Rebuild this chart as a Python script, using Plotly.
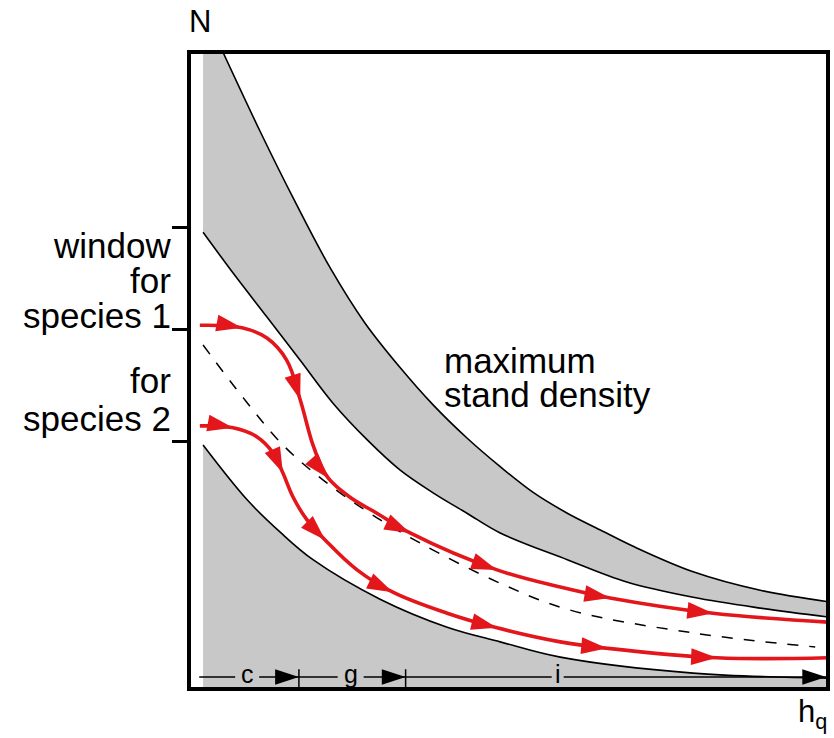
import numpy as np
import plotly.graph_objects as go

# ---------------- data (chart units: h_q and N both scaled 0-100) ----------------
upper_x = [5.3, 11.1, 16.6, 22.1, 27.5, 33.0, 38.2, 43.5, 48.7, 53.8, 59.2, 64.3, 69.5, 78.9, 89.4, 100]
upper_y = [100, 87.6, 76.5, 66.1, 57.5, 50.5, 44.6, 39.4, 34.9, 30.9, 27.6, 25.0, 22.4, 18.4, 15.5, 13.7]

middle_x = [2.2, 6.9, 12.2, 17.4, 22.5, 27.9, 33.0, 38.2, 43.5, 48.7, 59.2, 68.5, 78.9, 89.4, 100]
middle_y = [71.7, 65.3, 58.4, 51.6, 44.9, 39.1, 34.4, 30.8, 27.6, 24.5, 20.3, 16.8, 14.4, 12.7, 11.3]

lower_x = [2.2, 9.1, 14.4, 19.4, 29.9, 40.4, 48.7, 58.1, 78.9, 100]
lower_y = [38.3, 29.7, 24.5, 20.3, 14.1, 9.7, 7.4, 5.0, 2.5, 1.7]

dashed_x = [2.2, 8.5, 14.7, 21.0, 28.3, 36.2, 48.7, 59.6, 78.9, 98.0]
dashed_y = [54.0, 45.7, 38.3, 32.8, 27.6, 22.9, 16.6, 12.4, 8.8, 6.6]

sp1_x = [1.7, 8.3, 12.2, 15.3, 17.4, 19.3, 20.5, 21.8, 25.2, 29.4, 34.6, 48.2, 58.1, 65.9, 82.0, 100]
sp1_y = [57.1, 56.7, 55.1, 51.6, 45.4, 38.6, 35.5, 33.1, 30.1, 27.6, 24.5, 18.7, 16.0, 14.3, 11.9, 10.5]
sp1_arrows = [1, 4, 7, 10, 11, 13, 14]

sp2_x = [1.7, 6.9, 10.6, 13.2, 14.7, 16.3, 18.5, 21.3, 26.3, 31.9, 40.4, 48.2, 58.1, 65.4, 82.6, 100]
sp2_y = [41.3, 41.0, 39.6, 37.0, 33.9, 30.1, 26.5, 23.4, 18.7, 15.2, 11.9, 9.6, 7.4, 6.4, 4.9, 4.9]
sp2_arrows = [1, 4, 7, 9, 11, 13, 14]

window_ticks = [72.4, 56.5, 38.8]
left_labels = ["window", "for", "species 1", "for", "species 2"]
left_label_y = [69.7, 64.2, 58.6, 48.4, 42.5]

phase_edges = [1.6, 17.2, 33.9, 99.7]
phase_labels = ["c", "g", "i"]
phase_label_x = [9.1, 25.3, 57.7]
phase_gap_px = [12, 13, 6]
phase_y = 1.9
phase_tick = [0.0, 3.1]

# ---------------- style ----------------
GRAY = "#c8c8c8"
RED = "#e3161c"
FONT = "Liberation Sans, Arial, sans-serif"
L, R, T, B = 189, 6, 52, 49
W, H = 834, 738
SX = (W - L - R) / 100.0
SY = (H - T - B) / 100.0


def arrow_angles(xs, ys, idx):
    xs = np.asarray(xs, float)
    ys = np.asarray(ys, float)
    out = []
    for i in idx:
        dx = (xs[i + 1] - xs[i - 1]) * SX
        dy = (ys[i + 1] - ys[i - 1]) * SY
        out.append(float(np.degrees(np.arctan2(dx, dy))))
    return out


fig = go.Figure()
nohover = dict(hoverinfo="skip", showlegend=False)

# ---- gray regions ----
fig.add_trace(go.Scatter(x=lower_x, y=lower_y, mode="lines", fill="tozeroy",
                         fillcolor=GRAY, line=dict(width=0, shape="spline"), **nohover))
fig.add_trace(go.Scatter(x=middle_x, y=middle_y, mode="lines",
                         line=dict(width=0, shape="spline"), **nohover))
fig.add_trace(go.Scatter(x=upper_x, y=upper_y, mode="lines", fill="tonexty",
                         fillcolor=GRAY, line=dict(width=0, shape="spline"), **nohover))
fig.add_trace(go.Scatter(x=[middle_x[0], middle_x[0], upper_x[0], middle_x[1]],
                         y=[middle_y[0], 100, upper_y[0], middle_y[1]],
                         mode="lines", fill="toself", fillcolor=GRAY,
                         line=dict(width=0), **nohover))

# ---- black boundary curves ----
for xs, ys in [(upper_x, upper_y), (middle_x, middle_y), (lower_x, lower_y)]:
    fig.add_trace(go.Scatter(x=xs, y=ys, mode="lines",
                             line=dict(color="black", width=1.6, shape="spline"), **nohover))
fig.add_trace(go.Scatter(x=dashed_x, y=dashed_y, mode="lines",
                         line=dict(color="black", width=1.5, dash="11px,11px", shape="spline"),
                         **nohover))

# ---- red trajectories with arrowheads ----
for xs, ys, idx in [(sp1_x, sp1_y, sp1_arrows), (sp2_x, sp2_y, sp2_arrows)]:
    fig.add_trace(go.Scatter(x=xs, y=ys, mode="lines",
                             line=dict(color=RED, width=3.6, shape="spline", smoothing=1.1),
                             **nohover))
    fig.add_trace(go.Scatter(x=[xs[i] for i in idx], y=[ys[i] for i in idx], mode="markers",
                             marker=dict(symbol="arrow", size=27, color=RED,
                                         angle=arrow_angles(xs, ys, idx),
                                         line=dict(width=0)),
                             **nohover))

# ---- phase arrows along the bottom (c, g, i) ----
seg_x, seg_y = [], []
for k in range(len(phase_labels)):
    gap = phase_gap_px[k] / SX
    seg_x += [phase_edges[k], phase_label_x[k] - gap, None,
              phase_label_x[k] + gap, phase_edges[k + 1], None]
    seg_y += [phase_y, phase_y, None, phase_y, phase_y, None]
fig.add_trace(go.Scatter(x=seg_x, y=seg_y, mode="lines",
                         line=dict(color="black", width=1.5), **nohover))
fig.add_trace(go.Scatter(x=phase_edges[1:], y=[phase_y] * (len(phase_edges) - 1),
                         mode="markers",
                         marker=dict(symbol="arrow", size=25, color="black", angle=90,
                                     line=dict(width=0)), **nohover))
tick_x, tick_y = [], []
for e in phase_edges[1:-1]:
    tick_x += [e, e, None]
    tick_y += [phase_tick[0], phase_tick[1], None]
fig.add_trace(go.Scatter(x=tick_x, y=tick_y, mode="lines",
                         line=dict(color="black", width=1.5), **nohover))

annotations = []
for txt, x in zip(phase_labels, phase_label_x):
    annotations.append(dict(x=x, y=phase_y, xref="x", yref="y", text=txt, showarrow=False,
                            xanchor="center", yanchor="middle", yshift=3,
                            font=dict(family=FONT, size=25, color="black")))
for txt, y in zip(left_labels, left_label_y):
    annotations.append(dict(x=(173 - L) / (W - L - R), y=y, xref="paper", yref="y", text=txt,
                            showarrow=False, xanchor="right", yanchor="middle",
                            font=dict(family=FONT, size=35, color="black")))
annotations.append(dict(x=39.6, y=51.6, xref="x", yref="y", text="maximum", showarrow=False,
                        xanchor="left", yanchor="middle",
                        font=dict(family=FONT, size=35, color="black")))
annotations.append(dict(x=39.6, y=46.2, xref="x", yref="y", text="stand density",
                        showarrow=False, xanchor="left", yanchor="middle",
                        font=dict(family=FONT, size=35, color="black")))
annotations.append(dict(x=(187 - L) / (W - L - R), y=(H - B - 22) / (H - T - B),
                        xref="paper", yref="paper", text="N", showarrow=False,
                        xanchor="left", yanchor="middle",
                        font=dict(family=FONT, size=31, color="black")))
annotations.append(dict(x=(796 - L) / (W - L - R), y=(H - B - 714) / (H - T - B),
                        xref="paper", yref="paper", text="h<sub>q</sub>", showarrow=False,
                        xanchor="left", yanchor="middle",
                        font=dict(family=FONT, size=31, color="black")))

shapes = [
    dict(type="rect", xref="paper", yref="paper", x0=0, x1=1, y0=0, y1=1,
         line=dict(color="black", width=4), layer="above"),
]

fig.update_layout(
    width=W, height=H,
    margin=dict(l=L, r=R, t=T, b=B),
    plot_bgcolor="white", paper_bgcolor="white",
    showlegend=False,
    xaxis=dict(range=[0, 100], showgrid=False, zeroline=False, showticklabels=False,
               ticks="", showline=False),
    yaxis=dict(range=[0, 100], showgrid=False, zeroline=False, showticklabels=False,
               tickvals=window_ticks, ticks="outside", ticklen=16, tickwidth=2.5,
               tickcolor="black", showline=False),
    shapes=shapes,
    annotations=annotations,
)

fig.write_html("out.html")
